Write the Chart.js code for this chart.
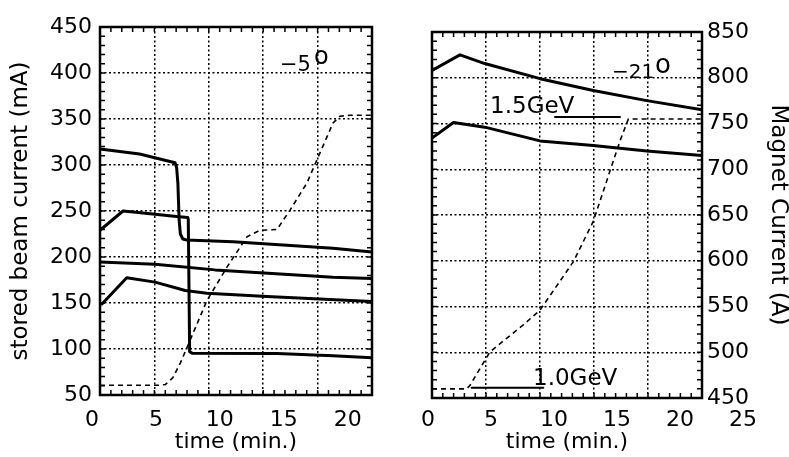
<!DOCTYPE html>
<html>
<head>
<meta charset="utf-8">
<script src="https://cdn.jsdelivr.net/npm/chart.js@4.4.1/dist/chart.umd.min.js"></script>
<style>
  html, body { margin: 0; padding: 0; background: #fff; }
  #wrap { position: relative; width: 789px; height: 457px; }
  #left { position: absolute; left: 0; top: 0; }
  #right { position: absolute; left: 395px; top: 0; }
</style>
</head>
<body>
<div id="wrap">
  <canvas id="left" width="395" height="457"></canvas>
  <canvas id="right" width="394" height="457"></canvas>
</div>
<script>
// ---- left panel (-5 deg), stored beam current in mA vs time in min.
var a_t = [0.16, 3.2, 6.07, 6.2, 6.3, 6.4, 6.5, 6.7, 7.0, 10.76, 18.85, 22];
var a_mA = [317, 312, 302.5, 297, 280, 240, 225, 219.5, 218.5, 216.5, 209.5, 205.5];
var b_t = [0, 1.86, 2.7, 6.2, 7.1, 7.14, 7.25, 7.45, 14.3, 18.85, 22];
var b_mA = [229, 250, 249, 244, 243, 241, 97, 95.5, 95, 92.6, 90.5];
var c_t = [0, 4.45, 9.3, 18.85, 22];
var c_mA = [194.5, 192, 186, 178, 176.6];
var d_t = [0.16, 2.16, 4.45, 6.9, 8.65, 13.5, 22];
var d_mA = [149, 177.5, 172.7, 163.6, 160.7, 157, 151.6];
var magL_t = [0, 4.85, 5.3, 5.9, 6.5, 7.04, 8.65, 10.27, 11.89, 12.94, 14.32, 15.37, 16.74, 17.55, 18.85, 19.41, 20.2, 22];
var magL_v = [60.6, 60.6, 61.5, 69, 85, 101.7, 152.7, 189, 222, 229, 230, 251, 280.5, 305.7, 345.8, 353, 354, 354];

// ---- right panel (-21 deg), magnet current in A
var e_t = [0, 2.28, 4.3, 8.8, 13.14, 17.5, 22];
var e_A = [808, 825, 815.5, 799, 786, 775, 765];
var f_t = [0, 1.75, 4.3, 8.8, 13.14, 17.5, 22];
var f_A = [734, 751, 746, 731, 726, 720, 715];
var magR_t = [0, 2.83, 3.1, 4.73, 7.44, 8.8, 11.52, 13.14, 14.5, 15.32, 16.0, 22];
var magR_A = [460, 460, 464, 500.5, 530, 546, 599, 643, 698, 731, 755, 755];
var gev15_t = [10.02, 15.32];
var gev15_A = [757, 757];
var gev10_t = [3.23, 9.07];
var gev10_A = [461.3, 461.3];

// ---- tick labels (the printed labels sit slightly off the plotted time grid)
var leftXTicks = [0, 5, 10, 15, 20];
var rightXTicks = [0, 5, 10, 15, 20, 25];
var leftLabelRange = [0.625, 21.9];
var rightLabelRange = [0.32, 21.75];
var timeMax = 22;

Chart.defaults.font.family = "'DejaVu Sans', sans-serif";
Chart.defaults.color = '#000';

function pts(t, v) {
  return t.map(function (x, i) { return { x: x, y: v[i] }; });
}
function solid(t, v, w) {
  return { data: pts(t, v), borderColor: '#000', borderWidth: w || 3, pointRadius: 0,
           tension: 0, borderJoinStyle: 'round', borderCapStyle: 'round', xAxisID: 'xd', yAxisID: 'y' };
}
function dashed(t, v) {
  return { data: pts(t, v), borderColor: '#000', borderWidth: 1.6, borderDash: [5, 4], pointRadius: 0,
           tension: 0, xAxisID: 'xd', yAxisID: 'y' };
}

// frame, inward minor ticks and text notes
var frame = {
  id: 'frame',
  afterDraw: function (chart, args, opts) {
    var ctx = chart.ctx, a = chart.chartArea;
    var g = chart.scales.xg, y = chart.scales.y, x = chart.scales.xd;
    ctx.save();
    ctx.strokeStyle = '#000';
    ctx.lineWidth = 1.5;
    ctx.beginPath();
    for (var i = 0; i <= 25; i++) {
      var px = g.getPixelForValue(i * 0.2);
      ctx.moveTo(px, a.top); ctx.lineTo(px, a.top + 5);
      ctx.moveTo(px, a.bottom); ctx.lineTo(px, a.bottom - 5);
    }
    for (var v = y.min; v <= y.max; v += 10) {
      var py = y.getPixelForValue(v);
      ctx.moveTo(a.left, py); ctx.lineTo(a.left + 5, py);
      ctx.moveTo(a.right, py); ctx.lineTo(a.right - 5, py);
    }
    ctx.stroke();
    ctx.lineWidth = 2.5;
    ctx.strokeRect(a.left, a.top, a.width, a.height);
    ctx.fillStyle = '#000';
    ctx.textBaseline = 'alphabetic';
    (opts.notes || []).forEach(function (n) {
      ctx.font = n.size + "px 'DejaVu Sans', sans-serif";
      ctx.fillText(n.text, x.getPixelForValue(n.x), y.getPixelForValue(n.y));
    });
    ctx.restore();
  }
};

function makeChart(id, cfg) {
  return new Chart(document.getElementById(id).getContext('2d'), {
    type: 'line',
    data: { datasets: cfg.datasets },
    options: {
      responsive: false,
      animation: false,
      layout: { padding: cfg.padding },
      plugins: { legend: { display: false }, tooltip: { enabled: false }, frame: { notes: cfg.notes } },
      scales: {
        x: {
          type: 'linear', position: 'bottom', min: cfg.labelRange[0], max: cfg.labelRange[1],
          grid: { display: false },
          border: { display: false },
          ticks: { font: { size: 22 }, padding: cfg.xTickPad, color: '#000' },
          afterBuildTicks: function (s) { s.ticks = cfg.xTicks.map(function (v) { return { value: v }; }); },
          afterFit: function (s) { s.height = cfg.xHeight; },
          title: { display: true, text: 'time (min.)', font: { size: 22, lineHeight: 1 }, padding: { top: 0, bottom: 4 }, color: '#000' }
        },
        xd: {
          type: 'linear', position: 'bottom', min: 0, max: timeMax, display: false
        },
        xg: {
          type: 'linear', position: 'top', min: 0, max: 5,
          ticks: { display: false, stepSize: 1 },
          grid: { color: '#000', lineWidth: 1.5, drawTicks: false },
          border: { display: false, dash: [2, 2.5] },
          afterFit: function (s) { s.height = 0; }
        },
        y: {
          type: 'linear', position: cfg.yPos, min: cfg.yMin, max: cfg.yMax,
          ticks: { stepSize: 50, font: { size: 22 }, padding: cfg.yTickPad, color: '#000' },
          grid: { color: '#000', lineWidth: 1.5, drawTicks: false },
          border: { display: false, dash: [2, 2.5] },
          afterFit: function (s) { s.width = cfg.yWidth; },
          title: { display: true, text: cfg.yTitle, font: { size: 23, lineHeight: 1 }, padding: { top: cfg.yTitlePad, bottom: 0 }, color: '#000' }
        }
      }
    },
    plugins: [frame]
  });
}

makeChart('left', {
  datasets: [
    solid(a_t, a_mA), solid(b_t, b_mA), solid(c_t, c_mA), solid(d_t, d_mA), dashed(magL_t, magL_v)
  ],
  padding: { left: 0, right: 23, top: 27, bottom: 0 },
  xTicks: leftXTicks, labelRange: leftLabelRange, xHeight: 62, xTickPad: 4,
  yPos: 'left', yMin: 50, yMax: 450, yWidth: 100, yTickPad: 8, yTitlePad: 10,
  yTitle: 'stored beam current (mA)',
  notes: [
    { text: '\u22125', x: 14.56, y: 402, size: 21 },
    { text: 'o', x: 17.3, y: 409.5, size: 24 }
  ]
});

makeChart('right', {
  datasets: [
    solid(e_t, e_A), solid(f_t, f_A), dashed(magR_t, magR_A),
    solid(gev15_t, gev15_A, 2), solid(gev10_t, gev10_A, 2)
  ],
  padding: { left: 37, right: 0, top: 32, bottom: 0 },
  xTicks: rightXTicks, labelRange: rightLabelRange, xHeight: 59, xTickPad: 1,
  yPos: 'right', yMin: 450, yMax: 850, yWidth: 87, yTickPad: 5, yTitlePad: 0,
  yTitle: 'Magnet Current (A)',
  notes: [
    { text: '\u221221', x: 14.67, y: 799.5, size: 20 },
    { text: 'o', x: 18.17, y: 805, size: 26 },
    { text: '1.5GeV', x: 4.73, y: 761, size: 23 },
    { text: '1.0GeV', x: 8.23, y: 464.3, size: 23 }
  ]
});
</script>
</body>
</html>
